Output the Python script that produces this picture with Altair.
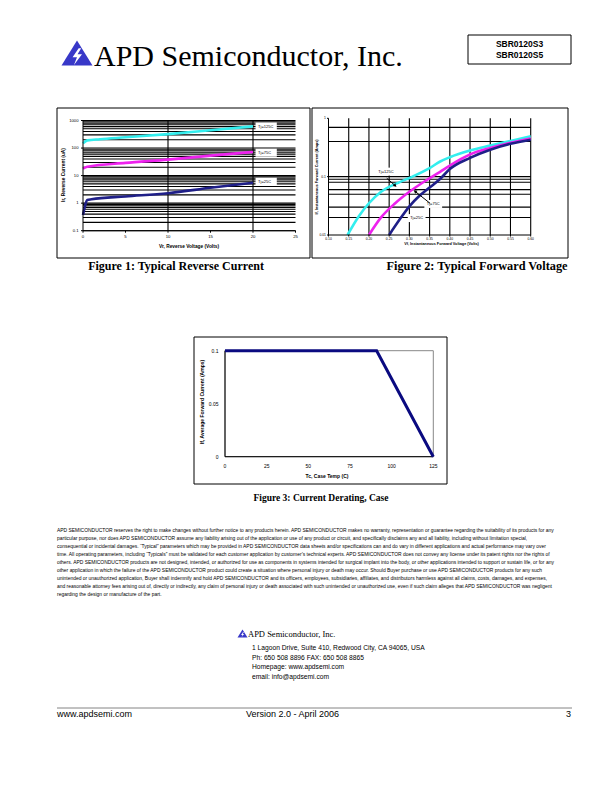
import altair as alt
import pandas as pd

# ---------------- data ----------------
# Figure 1: reverse current (uA) vs reverse voltage (V)
rev_v_125 = [0, 0.5, 2, 5, 10, 15, 20]
rev_i_125 = [148, 190, 210, 245, 320, 440, 610]
rev_v_75 = [0, 0.5, 5, 10, 15, 20]
rev_i_75 = [18, 21, 29, 38, 53, 72]
rev_v_25 = [0, 0.15, 0.5, 1, 5, 10, 15, 20]
rev_i_25 = [0.37, 0.6, 1.3, 1.38, 1.75, 2.3, 3.6, 5.5]
rev_labels = ["Tj=125C", "Tj=75C", "Tj=25C"]
rev_label_i = [600, 68, 6]
rev_x_ticks = [0, 5, 10, 15, 20, 25]
rev_x_tick_labels = ["0", "5", "10", "15", "20", "25"]
rev_y_ticks = [0.1, 1, 10, 100, 1000]
rev_y_tick_labels = ["0.1", "1", "10", "100", "1000"]
rev_x_grid = [10, 20]

# Figure 2: forward current (A) vs forward voltage (V)
fwd_v_125 = [0.147, 0.175, 0.20, 0.23, 0.275, 0.30, 0.35, 0.375, 0.40, 0.45, 0.50, 0.55, 0.60]
fwd_i_125 = [0.01, 0.021, 0.035, 0.055, 0.08, 0.095, 0.14, 0.18, 0.215, 0.28, 0.34, 0.41, 0.49]
fwd_v_75 = [0.20, 0.23, 0.265, 0.30, 0.34, 0.375, 0.40, 0.45, 0.50, 0.55, 0.60]
fwd_i_75 = [0.01, 0.02, 0.035, 0.055, 0.085, 0.12, 0.155, 0.24, 0.31, 0.38, 0.45]
fwd_v_25 = [0.25, 0.275, 0.30, 0.325, 0.35, 0.375, 0.40, 0.45, 0.50, 0.55, 0.60]
fwd_i_25 = [0.01, 0.018, 0.031, 0.047, 0.065, 0.09, 0.135, 0.21, 0.29, 0.365, 0.43]
fwd_labels = ["Tj=125C", "Tj=75C", "Tj=25C"]
fwd_label_v = [0.242, 0.359, 0.318]
fwd_label_i = [0.122, 0.034, 0.0195]
fwd_arrow_v = [0.244, 0.351]
fwd_arrow_i = [0.094, 0.035]
fwd_arrow_v2 = [0.265, 0.314]
fwd_arrow_i2 = [0.070, 0.056]
fwd_arrow_angle = [133, 308]
fwd_x_ticks = [0.10, 0.15, 0.20, 0.25, 0.30, 0.35, 0.40, 0.45, 0.50, 0.55, 0.60]
fwd_x_tick_labels = ["0.10", "0.15", "0.20", "0.25", "0.30", "0.35", "0.40", "0.45", "0.50", "0.55", "0.60"]
fwd_y_ticks = [0.01, 0.1, 1]
fwd_y_tick_labels = ["0.01", "0.1", "1"]
fwd_x_grid = [0.15, 0.20, 0.25, 0.30, 0.35, 0.40, 0.45, 0.50, 0.55, 0.60]
fwd_y_grid = [0.7, 0.4, 0.1, 0.09, 0.08, 0.06, 0.05, 0.03, 0.02]

# Figure 3: current derating
der_t = [0, 91, 125]
der_i = [0.1, 0.1, 0.0]
der_x_ticks = [0, 25, 50, 75, 100, 125]
der_x_tick_labels = ["0", "25", "50", "75", "100", "125"]
der_y_ticks = [0, 0.05, 0.1]
der_y_tick_labels = ["0", "0.05", "0.1"]

disclaimer = [
    "APD SEMICONDUCTOR reserves the right to make changes without further notice to any products herein. APD SEMICONDUCTOR makes no warranty, representation or guarantee regarding the suitability of its products for any",
    "particular purpose, nor does APD SEMICONDUCTOR assume any liability arising out of the application or use of any product or circuit, and specifically disclaims any and all liability, including without limitation special,",
    "consequential or incidental damages. \u201cTypical\u201d parameters which may be provided in APD SEMICONDUCTOR data sheets and/or specifications can and do vary in different applications and actual performance may vary over",
    "time. All operating parameters, including \u201cTypicals\u201d must be validated for each customer application by customer\u2019s technical experts. APD SEMICONDUCTOR does not convey any license under its patent rights nor the rights of",
    "others. APD SEMICONDUCTOR products are not designed, intended, or authorized for use as components in systems intended for surgical implant into the body, or other applications intended to support or sustain life, or for any",
    "other application in which the failure of the APD SEMICONDUCTOR product could create a situation where personal injury or death may occur. Should Buyer purchase or use APD SEMICONDUCTOR products for any such",
    "unintended or unauthorized application, Buyer shall indemnify and hold APD SEMICONDUCTOR and its officers, employees, subsidiaries, affiliates, and distributors harmless against all claims, costs, damages, and expenses,",
    "and reasonable attorney fees arising out of, directly or indirectly, any claim of personal injury or death associated with such unintended or unauthorized use, even if such claim alleges that APD SEMICONDUCTOR was negligent",
    "regarding the design or manufacture of the part.",
]
address = [
    "1 Lagoon Drive, Suite 410, Redwood City, CA 94065, USA",
    "Ph: 650 508 8896 FAX: 650 508 8865",
    "Homepage: www.apdsemi.com",
    "email: info@apdsemi.com",
]

# ---------------- styling ----------------
W, H = 612, 792
SANS = "Liberation Sans"
SERIF = "Liberation Serif"
CYAN, MAGENTA, NAVY = "#33EEEE", "#EE22EE", "#1F1F88"
LOGO_BLUE = "#3838C8"
TRI = "M0,-0.8L1,0.8L-1,0.8Z"
BOLT = "M0.12,-0.45L-0.32,0.2L0.0,0.2L-0.22,0.75L0.36,-0.02L0.04,-0.02L0.3,-0.45Z"
VTICK = "M0,0L0,1"
HTICK = "M0,0L-1,0"

one = pd.DataFrame({"k": [0]})


def txt(text, x, y, size, font=SANS, weight="normal", align="left", baseline="middle",
        color="black", line_height=None, angle=None):
    kw = {}
    if line_height is not None:
        kw["lineHeight"] = line_height
    if angle is not None:
        kw["angle"] = angle
    return alt.Chart(one).mark_text(text=text, font=font, fontSize=size, fontWeight=weight,
                                    align=align, baseline=baseline, color=color, **kw).encode(
        x=alt.value(x), y=alt.value(y))


def frame(x1, x2, y1, y2, width=1, color="black"):
    return alt.Chart(one).mark_rect(fillOpacity=0, stroke=color, strokeWidth=width).encode(
        x=alt.value(x1), x2=alt.value(x2), y=alt.value(y1), y2=alt.value(y2))


def logo(x, y, size):
    tri = alt.Chart(one).mark_point(shape=TRI, filled=True, fill=LOGO_BLUE, opacity=1,
                                     size=size * size, strokeWidth=0).encode(
        x=alt.value(x), y=alt.value(y))
    bolt = alt.Chart(one).mark_point(shape=BOLT, filled=True, fill="white", opacity=1,
                                      size=size * size * 0.8, strokeWidth=0).encode(
        x=alt.value(x), y=alt.value(y + size * 0.05))
    return [tri, bolt]


def X(field, xs):
    return alt.X(field, scale=xs, axis=None)


def Y(field, ys):
    return alt.Y(field, scale=ys, axis=None)


def manual_axes(xs, ys, xdom, ydom, xt, xtl, yt, ytl, lab, xdy, ydx, tick=2.0):
    """Axis lines, ticks and tick labels drawn through the figure's scales."""
    layers = [
        alt.Chart(one).mark_rule(color="black", strokeWidth=1).encode(
            x=alt.X(datum=xdom[0], scale=xs, axis=None), x2=alt.X2(datum=xdom[1]),
            y=alt.Y(datum=ydom[0], scale=ys, axis=None)),
        alt.Chart(one).mark_rule(color="black", strokeWidth=1).encode(
            y=alt.Y(datum=ydom[0], scale=ys, axis=None), y2=alt.Y2(datum=ydom[1]),
            x=alt.X(datum=xdom[0], scale=xs, axis=None)),
    ]
    xdf = pd.DataFrame({"v": xt, "t": xtl})
    ydf = pd.DataFrame({"v": yt, "t": ytl})
    if tick > 0:
        layers += [
            alt.Chart(xdf).mark_point(shape=VTICK, size=(2 * tick) ** 2, color="black",
                                      strokeWidth=1, opacity=1).encode(
                x=X("v:Q", xs), y=alt.Y(datum=ydom[0], scale=ys, axis=None)),
            alt.Chart(ydf).mark_point(shape=HTICK, size=(2 * tick) ** 2, color="black",
                                      strokeWidth=1, opacity=1).encode(
                y=Y("v:Q", ys), x=alt.X(datum=xdom[0], scale=xs, axis=None)),
        ]
    layers += [
        alt.Chart(xdf).mark_text(font=SANS, fontSize=lab, color="black", align="center",
                                 baseline="middle", dy=xdy).encode(
            x=X("v:Q", xs), y=alt.Y(datum=ydom[0], scale=ys, axis=None), text="t:N"),
        alt.Chart(ydf).mark_text(font=SANS, fontSize=lab, color="black", align="right",
                                 baseline="middle", dx=ydx).encode(
            y=Y("v:Q", ys), x=alt.X(datum=xdom[0], scale=xs, axis=None), text="t:N"),
    ]
    return layers


def curve(v, i, color, xs, ys, width):
    df = pd.DataFrame({"v": v, "i": i})
    return alt.Chart(df).mark_line(color=color, strokeWidth=width, interpolate="monotone").encode(
        x=X("v:Q", xs), y=Y("i:Q", ys))


# ---------------- page decoration ----------------
deco = [
    frame(57, 310, 108, 258),
    frame(312, 568, 108, 258),
    frame(194, 447, 337, 484),
    frame(468, 571, 35, 64),
    txt("SBR0120S3", 519.5, 44, 8.5, weight="bold", align="center"),
    txt("SBR0120S5", 519.5, 55, 8.5, weight="bold", align="center"),
    *logo(77, 53, 31),
    txt("APD Semiconductor, Inc.", 94, 66, 30, font=SERIF, baseline="alphabetic"),
    txt("Figure 1: Typical Reverse Current", 176, 266, 12, font=SERIF, weight="bold", align="center"),
    txt("Figure 2: Typical Forward Voltage", 477, 266, 12.3, font=SERIF, weight="bold", align="center"),
    txt("Figure 3: Current Derating, Case", 321, 498, 9.5, font=SERIF, weight="bold", align="center"),
    txt(disclaimer, 57, 531, 4.95, line_height=8.0),
    *logo(242.5, 633.5, 10),
    txt("APD Semiconductor, Inc.", 248, 634, 8.5, font=SERIF),
    txt(address, 252, 648, 6.7, line_height=9.7),
    alt.Chart(one).mark_rule(color="#666666", strokeWidth=0.8).encode(
        x=alt.value(57), x2=alt.value(572), y=alt.value(708)),
    txt("www.apdsemi.com", 57, 714, 9),
    txt("Version 2.0 - April 2006", 246, 714, 9),
    txt("3", 571, 714, 9, align="right"),
    # axis titles
    txt("Vr, Reverse Voltage (Volts)", 189, 246.5, 4.8, weight="bold", align="center"),
    txt("Ir, Reverse Current (uA)", 64, 175, 4.8, weight="bold", align="center", angle=270),
    txt("Vf, Instantaneous Forward Voltage (Volts)", 441.5, 243.5, 3.8, weight="bold", align="center"),
    txt("If, Instantaneous Forward Current (Amps)", 316.7, 177, 3.8, weight="bold", align="center", angle=270),
    txt("Tc, Case Temp (C)", 327, 475.7, 5, weight="bold", align="center"),
    txt("If, Average Forward Current (Amps)", 202.3, 402, 5, weight="bold", align="center", angle=270),
]
deco_layer = alt.layer(*deco)

# ---------------- Figure 1 ----------------
xs1 = alt.Scale(domain=[0, 25], range=[83, 295.5], nice=False, zero=False)
ys1 = alt.Scale(type="log", domain=[0.1, 1000], range=[230.7, 120.5], nice=False)
rev_y_grid = [k * d for d in [0.1, 1, 10, 100] for k in range(1, 10)] + [1000]

g1h = alt.Chart(pd.DataFrame({"g": rev_y_grid})).mark_rule(color="black", strokeWidth=1.1).encode(
    y=Y("g:Q", ys1), x=alt.X(datum=0, scale=xs1, axis=None), x2=alt.X2(datum=25))
g1v = alt.Chart(pd.DataFrame({"g": rev_x_grid})).mark_rule(color="black", strokeWidth=1.1).encode(
    x=X("g:Q", xs1), y=alt.Y(datum=0.1, scale=ys1, axis=None), y2=alt.Y2(datum=1000))
c1 = [
    curve(rev_v_125, rev_i_125, CYAN, xs1, ys1, 2.6),
    curve(rev_v_75, rev_i_75, MAGENTA, xs1, ys1, 2.6),
    curve(rev_v_25, rev_i_25, NAVY, xs1, ys1, 2.6),
]
lab1 = pd.DataFrame({"t": rev_labels, "i": rev_label_i,
                     "lo": [v / 1.4 for v in rev_label_i], "hi": [v * 1.4 for v in rev_label_i]})
lab1_bg = alt.Chart(lab1).mark_rect(fill="white").encode(
    x=alt.X(datum=20.3, scale=xs1, axis=None), x2=alt.X2(datum=22.8),
    y=Y("lo:Q", ys1), y2="hi:Q")
lab1_t = alt.Chart(lab1).mark_text(font=SANS, fontSize=4, align="left", color="black").encode(
    x=alt.X(datum=20.6, scale=xs1, axis=None), y=Y("i:Q", ys1), text="t:N")
ax1 = manual_axes(xs1, ys1, [0, 25], [0.1, 1000], rev_x_ticks, rev_x_tick_labels,
                  rev_y_ticks, rev_y_tick_labels, 4.2, 6, -4.5)
fig1 = alt.layer(g1h, g1v, *c1, lab1_bg, lab1_t, *ax1)

# ---------------- Figure 2 ----------------
xs2 = alt.Scale(domain=[0.10, 0.60], range=[328.5, 530.7], nice=False, zero=False)
ys2 = alt.Scale(type="log", domain=[0.01, 1], range=[235, 118.3], nice=False)
g2h = alt.Chart(pd.DataFrame({"g": fwd_y_grid})).mark_rule(color="black", strokeWidth=1.1).encode(
    y=Y("g:Q", ys2), x=alt.X(datum=0.10, scale=xs2, axis=None), x2=alt.X2(datum=0.60))
g2v = alt.Chart(pd.DataFrame({"g": fwd_x_grid})).mark_rule(color="black", strokeWidth=1.1).encode(
    x=X("g:Q", xs2), y=alt.Y(datum=0.01, scale=ys2, axis=None), y2=alt.Y2(datum=1))
c2 = [
    curve(fwd_v_125, fwd_i_125, CYAN, xs2, ys2, 2.6),
    curve(fwd_v_75, fwd_i_75, MAGENTA, xs2, ys2, 2.6),
    curve(fwd_v_25, fwd_i_25, NAVY, xs2, ys2, 2.6),
]
lab2 = pd.DataFrame({"t": fwd_labels, "v": fwd_label_v, "i": fwd_label_i,
                     "v0": [v - 0.022 for v in fwd_label_v], "v1": [v + 0.022 for v in fwd_label_v],
                     "lo": [v / 1.17 for v in fwd_label_i], "hi": [v * 1.17 for v in fwd_label_i]})
lab2_bg = alt.Chart(lab2).mark_rect(fill="white").encode(
    x=X("v0:Q", xs2), x2="v1:Q", y=Y("lo:Q", ys2), y2="hi:Q")
lab2_t = alt.Chart(lab2).mark_text(font=SANS, fontSize=4, align="center", color="black").encode(
    x=X("v:Q", xs2), y=Y("i:Q", ys2), text="t:N")
arr = pd.DataFrame({"v": fwd_arrow_v, "i": fwd_arrow_i, "v2": fwd_arrow_v2, "i2": fwd_arrow_i2,
                    "a": fwd_arrow_angle})
arr_l = alt.Chart(arr).mark_rule(color="black", strokeWidth=1).encode(
    x=X("v:Q", xs2), x2="v2:Q", y=Y("i:Q", ys2), y2="i2:Q")
arr_h = alt.Chart(arr).mark_point(shape="triangle-up", filled=True, color="black", size=14, opacity=1).encode(
    x=X("v2:Q", xs2), y=Y("i2:Q", ys2), angle=alt.Angle("a:Q", scale=None))
ax2 = manual_axes(xs2, ys2, [0.10, 0.60], [0.01, 1], fwd_x_ticks, fwd_x_tick_labels,
                  fwd_y_ticks, fwd_y_tick_labels, 3.4, 4, -2.5, tick=1.5)
fig2 = alt.layer(g2h, g2v, *c2, lab2_bg, lab2_t, arr_l, arr_h, *ax2)

# ---------------- Figure 3 ----------------
xs3 = alt.Scale(domain=[0, 125], range=[225, 433.3], nice=False, zero=False)
ys3 = alt.Scale(domain=[0, 0.1], range=[456.7, 350.7], nice=False, zero=False)
box3 = alt.Chart(one).mark_rect(fillOpacity=0, stroke="#888888", strokeWidth=1).encode(
    x=alt.X(datum=0, scale=xs3, axis=None), x2=alt.X2(datum=125),
    y=alt.Y(datum=0, scale=ys3, axis=None), y2=alt.Y2(datum=0.1))
ax3 = manual_axes(xs3, ys3, [0, 125], [0, 0.1], der_x_ticks, der_x_tick_labels,
                  der_y_ticks, der_y_tick_labels, 5, 9, -6.5, tick=0)
c3 = alt.Chart(pd.DataFrame({"t": der_t, "i": der_i})).mark_line(color="#0A0A80", strokeWidth=3).encode(
    x=X("t:Q", xs3), y=Y("i:Q", ys3))
fig3 = alt.layer(box3, *ax3, c3)

chart = alt.layer(deco_layer, fig1, fig2, fig3).resolve_scale(
    x="independent", y="independent").properties(
    width=W, height=H, padding=0, autosize=alt.AutoSizeParams(type="none"), background="white"
).configure_view(stroke=None)

chart.save("out.html", embed_options={"renderer": "svg", "actions": False})
